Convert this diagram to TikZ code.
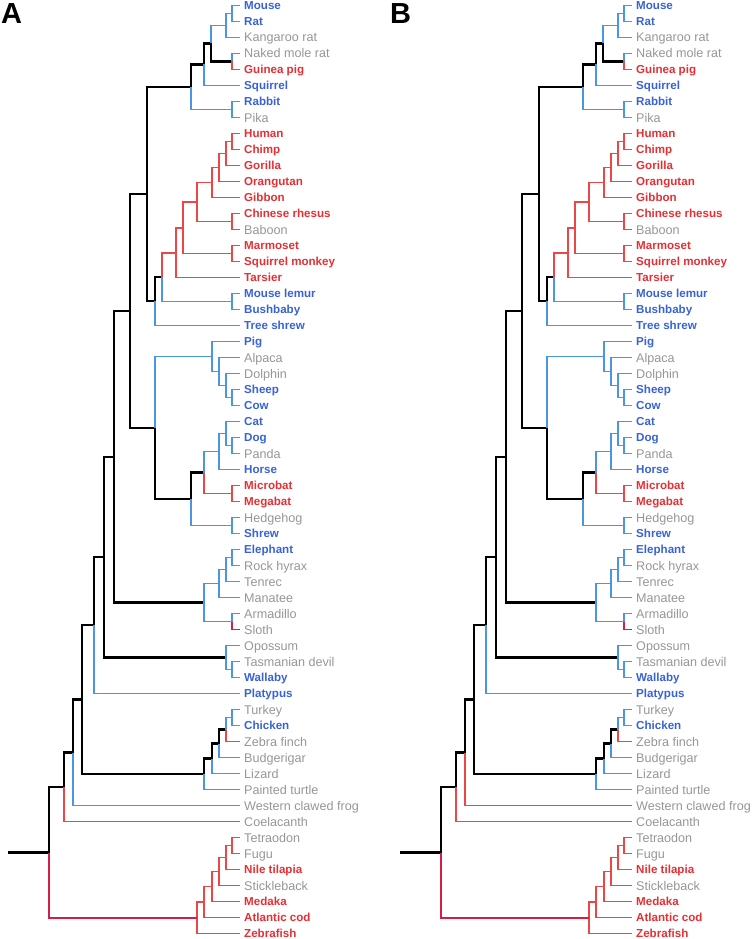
\documentclass[tikz,border=0pt]{standalone}
\usepackage{fontspec}
\setmainfont{Liberation Sans}
\usepackage{tikz}

\definecolor{taxblue}{RGB}{57,98,214}
\definecolor{taxred}{RGB}{228,48,52}
\definecolor{taxgrey}{RGB}{150,150,150}
\definecolor{brblue}{RGB}{74,150,228}
\definecolor{brred}{RGB}{236,70,70}
\definecolor{brcrimson}{RGB}{214,28,72}

\begin{document}
\begin{tikzpicture}[x=1pt, y=-1pt,
    taxon/.style={anchor=west, inner xsep=4pt, inner ysep=0pt, text depth=0pt},
    tg/.style={taxon, text=taxgrey, font=\fontsize{12.6}{14}\selectfont, text height=9pt},
    tb/.style={taxon, text=taxblue, font=\bfseries\fontsize{11.6}{13}\selectfont, text height=8.3pt},
    tr/.style={taxon, text=taxred, font=\bfseries\fontsize{11.6}{13}\selectfont, text height=8.3pt},
    panel/.style={anchor=base west, inner sep=0pt, font=\bfseries\fontsize{29}{29}\selectfont},
    bk/.style={black, line width=2.3pt},
    bl/.style={brblue, line width=1.9pt},
    rd/.style={brred, line width=1.9pt},
    cr/.style={brcrimson, line width=1.9pt}]
    \useasboundingbox (0,0) rectangle (755,939);
    \node[panel] (lA) at (1,24) {A};
    \node[panel] (lB) at (390,24) {B};
    % both trees, only the frog branch differs
    \foreach \p/\dx/\fc in {A/0/bl, B/392/rd} {
    \begin{scope}[xshift=\dx, name prefix=\p-]
        % leaves
        \foreach \n/\t/\s [count=\i from 0] in {mouse/Mouse/tb, rat/Rat/tb, krat/Kangaroo rat/tg,
            nmr/Naked mole rat/tg, gpig/Guinea pig/tr, squirrel/Squirrel/tb, rabbit/Rabbit/tb, pika/Pika/tg,
            human/Human/tr, chimp/Chimp/tr, gorilla/Gorilla/tr, orang/Orangutan/tr, gibbon/Gibbon/tr,
            rhesus/Chinese rhesus/tr, baboon/Baboon/tg, marmoset/Marmoset/tr, sqmonkey/Squirrel monkey/tr,
            tarsier/Tarsier/tr, mlemur/Mouse lemur/tb, bushbaby/Bushbaby/tb, tshrew/Tree shrew/tb,
            pig/Pig/tb, alpaca/Alpaca/tg, dolphin/Dolphin/tg, sheep/Sheep/tb, cow/Cow/tb,
            cat/Cat/tb, dog/Dog/tb, panda/Panda/tg, horse/Horse/tb, microbat/Microbat/tr, megabat/Megabat/tr,
            hedgehog/Hedgehog/tg, shrew/Shrew/tb, elephant/Elephant/tb, hyrax/Rock hyrax/tg, tenrec/Tenrec/tg,
            manatee/Manatee/tg, armadillo/Armadillo/tg, sloth/Sloth/tg, opossum/Opossum/tg,
            tdevil/Tasmanian devil/tg, wallaby/Wallaby/tb, platypus/Platypus/tb, turkey/Turkey/tg,
            chicken/Chicken/tb, zfinch/Zebra finch/tg, budgie/Budgerigar/tg, lizard/Lizard/tg,
            turtle/Painted turtle/tg, frog/Western clawed frog/tg, coela/Coelacanth/tg,
            tetraodon/Tetraodon/tg, fugu/Fugu/tg, tilapia/Nile tilapia/tr, stickle/Stickleback/tg,
            medaka/Medaka/tr, cod/Atlantic cod/tr, zfish/Zebrafish/tr}
            \node[\s] (\n) at (240,{5.5+16*\i}) {\t};
        % inner nodes
        \foreach \n/\x/\y in {mr/232/13.5, mrk/226/25.5, nmg/232/61.5, mrkn/211/43.5, rod/204/64.5,
            lago/232/109.5, glires/191/87, hc/232/141.5, hcg/226/153.5, apes/219/167.5, hom/212/182.5,
            cerco/232/221.5, catar/197/202, platy/232/253.5, anth/183/227.75, hapl/176/252.6,
            strep/232/301.5, prim/162/277, euarch/155/301.3, eag/147/194.1,
            sc/232/397.5, dsc/226/385.5, adsc/219/371.5, cetart/212/356.5, dp/232/445.5, cdp/226/433.5,
            carnh/219/451.5, bats/232/493.5, scrot/204/472.5, eul/232/525.5, sceul/191/499,
            laur/155/427.75, bor/130/310.9, eh/232/557.5, eht/226/569.5, afro/219/583.5, xen/232/621.5,
            atl/204/602.5, euth/114/456.7, tw/232/669.5, mars/226/657.5, ther/104/557.1, mamm/94/625.3,
            tc/232/717.5, tcz/226/729.5, birds/219/743.5, bdl/212/758.5, saur/204/774, amn/82/699.6,
            tet/73/752.5, sarc/64/787, tf/232/845.5, tft/226/857.5, tfts/219/871.5, tftsm/212/886.5,
            acan/204/902, actin/197/918, root/49/852.5, start/8/852.5}
            \coordinate (\n) at (\x,\y);
        % black branches
        \draw[bk] (start) -- (root);
        \foreach \a/\b in {mrkn/nmg, rod/mrkn, glires/rod, eag/glires, eag/euarch, euarch/prim,
            bor/eag, bor/laur, laur/sceul, sceul/scrot, euth/bor, euth/atl, ther/euth, ther/mars,
            mamm/ther, amn/mamm, amn/saur, birds/tcz, bdl/birds, saur/bdl, tet/amn, sarc/tet, root/sarc}
            \draw[bk] (\a) |- (\b);
        % blue branches
        \foreach \a/\b in {mr/mouse, mr/rat, mrk/mr, mrk/krat, nmg/nmr, mrkn/mrk, rod/squirrel,
            lago/rabbit, lago/pika, glires/lago, strep/mlemur, strep/bushbaby, prim/strep, euarch/tshrew,
            sc/sheep, sc/cow, dsc/dolphin, dsc/sc, adsc/alpaca, adsc/dsc, cetart/pig, cetart/adsc,
            dp/dog, dp/panda, cdp/cat, cdp/dp, carnh/cdp, carnh/horse, scrot/carnh, eul/hedgehog,
            eul/shrew, sceul/eul, laur/cetart, eh/elephant, eh/hyrax, eht/eh, eht/tenrec, afro/eht,
            afro/manatee, xen/armadillo, atl/afro, atl/xen, tw/tdevil, tw/wallaby, mars/opossum, mars/tw,
            mamm/platypus, tc/turkey, tc/chicken, tcz/tc, birds/budgie, bdl/lizard, saur/turtle}
            \draw[bl] (\a) |- (\b);
        % red branches
        \foreach \a/\b in {nmg/gpig, hc/human, hc/chimp, hcg/hc, hcg/gorilla, apes/hcg, apes/orang,
            hom/apes, hom/gibbon, cerco/rhesus, cerco/baboon, catar/hom, catar/cerco, platy/marmoset,
            platy/sqmonkey, anth/catar, anth/platy, hapl/anth, hapl/tarsier, prim/hapl, bats/microbat,
            bats/megabat, scrot/bats, tcz/zfinch, sarc/coela, tf/tetraodon, tf/fugu, tft/tf, tft/tilapia,
            tfts/tft, tfts/stickle, tftsm/tfts, tftsm/medaka, acan/tftsm, acan/cod, actin/acan, actin/zfish}
            \draw[rd] (\a) |- (\b);
        \draw[cr] (xen) |- (sloth);
        \draw[cr] (root) |- (actin);
        \draw[\fc] (tet) |- (frog);
    \end{scope}
    }
\end{tikzpicture}
\end{document}
